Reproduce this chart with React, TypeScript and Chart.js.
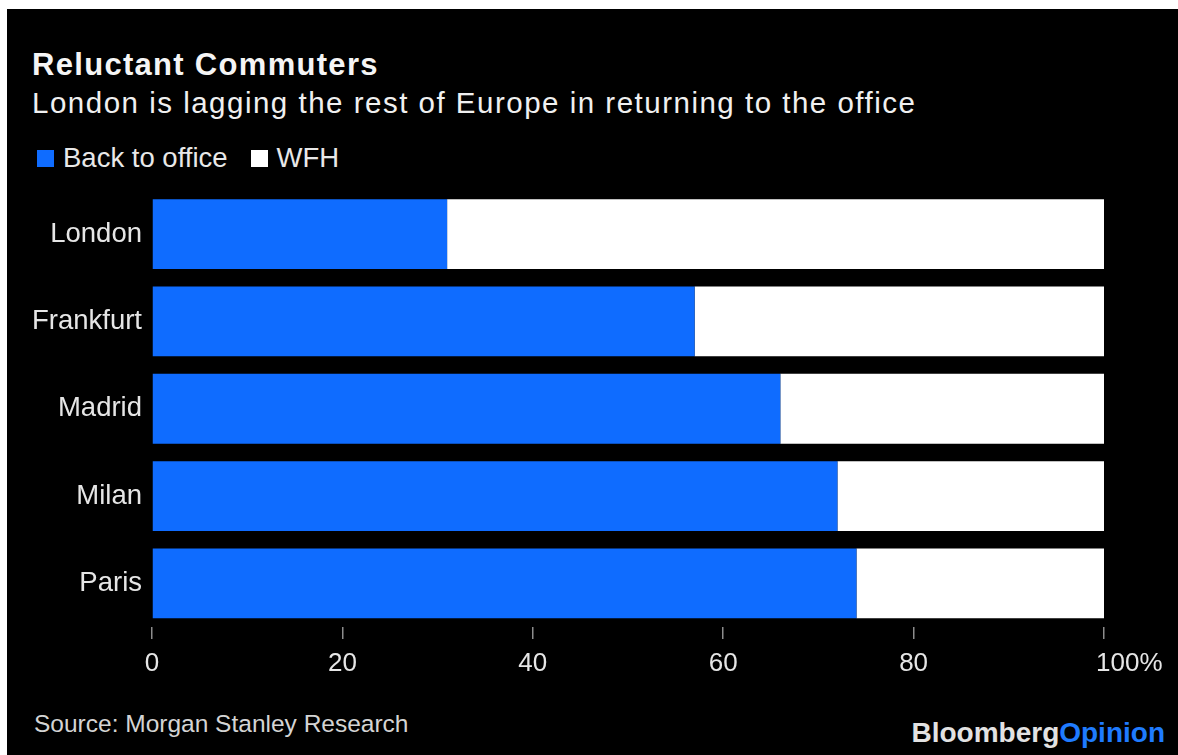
import React, { useEffect, useRef } from "react";
import { Chart, registerables } from "chart.js";

Chart.register(...registerables);

const categories = ["London", "Frankfurt", "Madrid", "Milan", "Paris"];
const backToOffice = [31, 57, 66, 72, 74];
const wfh = [69, 43, 34, 28, 26];
const seriesNames = ["Back to office", "WFH"];
const seriesColors = ["#0f6cff", "#ffffff"];
const xTicks = [0, 20, 40, 60, 80, 100];

const FONT = '"Liberation Sans", Arial, Helvetica, sans-serif';

export default function App() {
  const canvasRef = useRef<HTMLCanvasElement | null>(null);

  useEffect(() => {
    document.body.style.margin = "0";
    document.body.style.background = "#ffffff";
    const canvas = canvasRef.current;
    if (!canvas) return;
    const chart = new Chart(canvas, {
      type: "bar",
      data: {
        labels: categories,
        datasets: [
          {
            label: seriesNames[0],
            data: backToOffice,
            backgroundColor: seriesColors[0],
            borderWidth: 0,
            barPercentage: 0.8,
            categoryPercentage: 1.0,
          },
          {
            label: seriesNames[1],
            data: wfh,
            backgroundColor: seriesColors[1],
            borderWidth: 0,
            barPercentage: 0.8,
            categoryPercentage: 1.0,
          },
        ],
      },
      options: {
        indexAxis: "y",
        animation: false,
        responsive: false,
        maintainAspectRatio: false,
        devicePixelRatio: 1,
        layout: { padding: { top: 5, right: 74, left: 0, bottom: 0 } },
        plugins: {
          legend: { display: false },
          title: { display: false },
          tooltip: { enabled: false },
        },
        scales: {
          x: {
            stacked: true,
            min: 0,
            max: 100,
            afterBuildTicks: (scale: any) => {
              scale.ticks = xTicks.map((v) => ({ value: v }));
            },
            afterFit: (scale: any) => {
              scale.height = 77;
            },
            grid: {
              display: true,
              drawOnChartArea: false,
              drawTicks: true,
              tickLength: 12,
              color: "#8c8c8c",
              lineWidth: 1.5,
            },
            border: { display: false },
            ticks: {
              color: "#e6e6e6",
              padding: 9,
              font: { family: FONT, size: 26 },
              callback: (v: any) =>
                Number(v) === 100 ? "       100%" : String(v),
              maxRotation: 0,
              autoSkip: false,
            },
          },
          y: {
            stacked: true,
            afterFit: (scale: any) => {
              scale.width = 145;
            },
            grid: { display: false, drawTicks: false },
            border: { display: false },
            ticks: {
              color: "#e6e6e6",
              padding: 10,
              font: { family: FONT, size: 27.5 },
            },
          },
        },
      },
    });
    return () => chart.destroy();
  }, []);

  const abs = (s: React.CSSProperties): React.CSSProperties => ({
    position: "absolute",
    whiteSpace: "nowrap",
    fontFamily: FONT,
    margin: 0,
    ...s,
  });

  return (
    <div
      style={{
        position: "absolute",
        left: 7,
        top: 9,
        width: 1171,
        height: 746,
        background: "#000000",
        overflow: "hidden",
      }}
    >
      <div
        style={abs({
          left: 25,
          top: 40,
          fontSize: 31,
          lineHeight: "31px",
          fontWeight: 700,
          color: "#f5f5f5",
          letterSpacing: "1.3px",
        })}
      >
        Reluctant Commuters
      </div>
      <div
        style={abs({
          left: 25,
          top: 79,
          fontSize: 29.5,
          lineHeight: "29.5px",
          color: "#f0f0f0",
          letterSpacing: "1.5px",
        })}
      >
        London is lagging the rest of Europe in returning to the office
      </div>
      <div
        style={abs({
          left: 30,
          top: 135,
          display: "flex",
          alignItems: "flex-start",
          fontSize: 27.5,
          lineHeight: "27.5px",
          color: "#e8e8e8",
        })}
      >
        {seriesNames.map((name, i) => (
          <div key={name} style={{ display: "flex", alignItems: "flex-start", marginRight: 23 }}>
            <span
              style={{
                display: "inline-block",
                width: 17,
                height: 17,
                marginTop: 6,
                marginRight: 9,
                background: seriesColors[i],
              }}
            />
            <span>{name}</span>
          </div>
        ))}
      </div>
      <canvas
        ref={canvasRef}
        width={1171}
        height={540}
        style={{ position: "absolute", left: 0, top: 155, width: 1171, height: 540 }}
      />
      <div
        style={abs({
          left: 27,
          top: 703,
          fontSize: 24.5,
          lineHeight: "24.5px",
          color: "#d4d4d4",
        })}
      >
        Source: Morgan Stanley Research
      </div>
      <div
        style={abs({
          right: 13,
          top: 710,
          fontSize: 28,
          lineHeight: "28px",
          fontWeight: 700,
          color: "#e2e2e2",
        })}
      >
        Bloomberg<span style={{ color: "#1f7bff" }}>Opinion</span>
      </div>
    </div>
  );
}
